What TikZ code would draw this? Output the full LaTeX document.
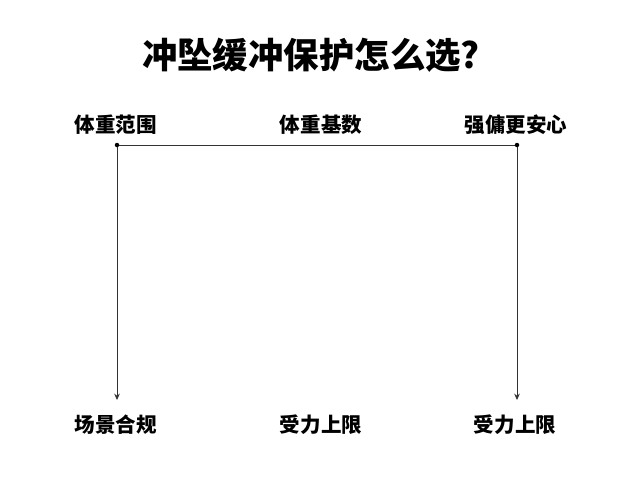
\documentclass[tikz,border=0pt]{standalone}
\usepackage{fontspec}
\setmainfont{Noto Sans CJK SC}
\newfontfamily\heavyfont{Noto Sans CJK SC Black}
\usetikzlibrary{arrows.meta}
\begin{document}
\begin{tikzpicture}[x=0.025cm,y=-0.025cm,>={Stealth[length=4.5pt,width=4pt]}, line join=round, line cap=round]
			\tikzset{label style/.style={font=\fontsize{14.6}{16}\selectfont\bfseries, inner sep=0pt, text=black},
				link style/.style={draw=black!80, line width=0.6pt}}
			\useasboundingbox (0,0) rectangle (640,480);
			\def \xl{117}\def \xr{517}\def \ytop{145}\def \ybot{400}
			\node[font=\fontsize{25.2}{28}\selectfont\heavyfont, inner sep=0pt] (title) at (311,55) {冲坠缓冲保护怎么选?};
			\node[label style] (range) at (116,125) {体重范围};
			\node[label style] (base) at (321,125) {体重基数};
			\node[label style] (safe) at (516,125) {强傭更安心};
			\node[label style] (scene) at (116,425) {场景合规};
			\node[label style] (limitm) at (321,425) {受力上限};
			\node[label style] (limitr) at (515,425) {受力上限};
			\coordinate (tl) at (\xl,\ytop);
			\coordinate (tr) at (\xr,\ytop);
			\coordinate (bl) at (\xl,\ybot);
			\coordinate (br) at (\xr,\ybot);
			\draw[link style] (tl)--(tr);
			\draw[link style,->] (tl)--(bl);
			\draw[link style,->] (tr)--(br);
			\foreach \p in {tl,tr}
			\fill[black] (\p) circle(1.6pt);
	\end{tikzpicture}
\end{document}
